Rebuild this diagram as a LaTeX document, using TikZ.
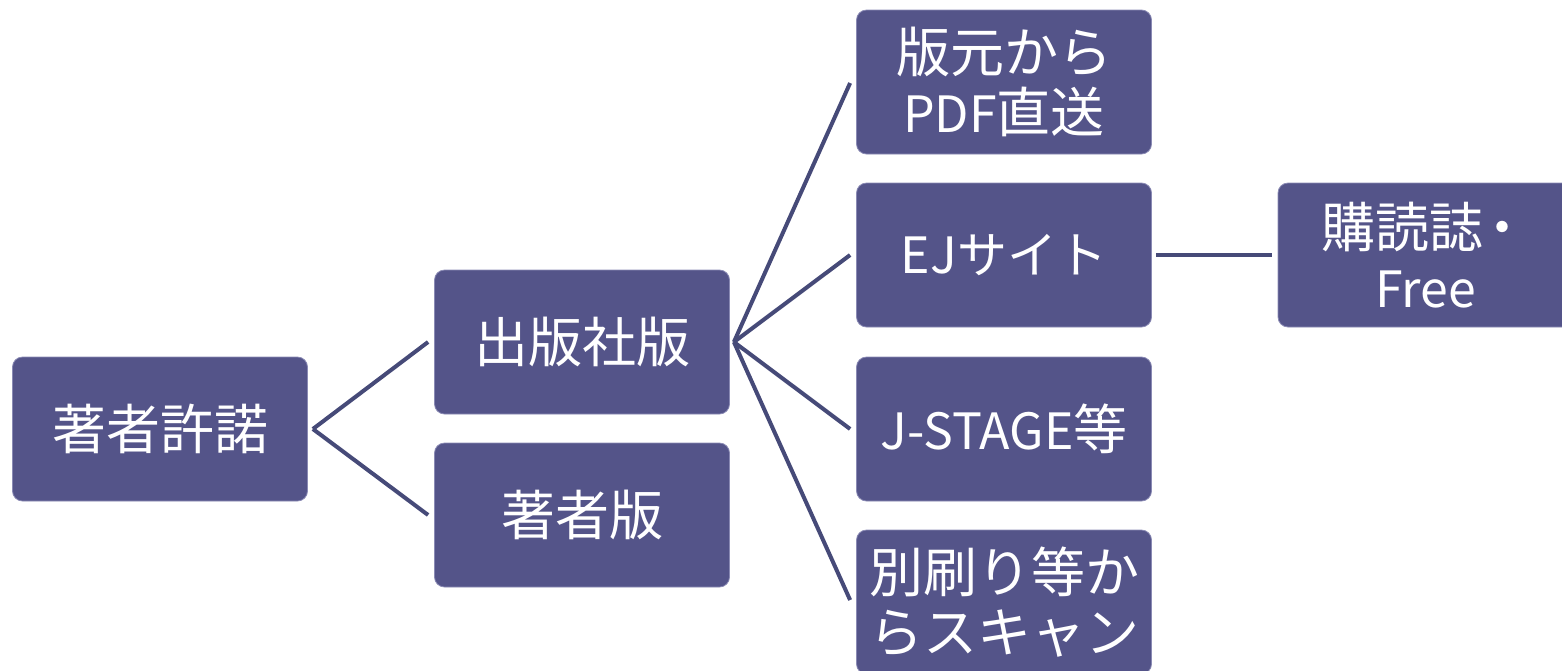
\documentclass[tikz,border=0pt]{standalone}
\usepackage{fontspec}
\setmainfont{Noto Sans CJK JP}
\definecolor{boxfill}{HTML}{545489}
\definecolor{boxedge}{HTML}{8A8AB4}
\definecolor{linkcol}{HTML}{464A78}
\newcommand{\lat}[1]{{\fontsize{25}{30}\selectfont #1}}
\begin{document}
\begin{tikzpicture}[x=0.5pt,y=-0.5pt,
  box/.style={rectangle, rounded corners=5pt, fill=boxfill, draw=boxedge, line width=0.4pt,
    minimum width=147.5pt, minimum height=72pt, text=white, align=center,
    font=\fontsize{27}{30}\selectfont, inner sep=0pt},
  link/.style={draw=linkcol, line width=2pt}]
\useasboundingbox (0,0) rectangle (1562,670);
\clip (0,0) rectangle (1562,670);
\node[box] (auth) at (160,429) {著者許諾};
\node[box] (pub) at (582,342) {出版社版};
\node[box] (aver) at (582,515) {著者版};
\node[box] (pdf) at (1004,82) {版元から\\\lat{PDF}直送};
\node[box] (ej) at (1004,255) {\lat{EJ}{\fontsize{25}{30}\selectfont サイト}};
\node[box] (jst) at (1004,429) {\lat{J-STAGE}等};
\node[box] (scan) at (1004,602) {別刷り等か\\らスキャン};
\node[box] (sub) at (1425.5,255) {購読誌\hspace{-4pt}・\\\lat{Free}};
\draw[link] ([xshift=2.5pt]auth.east) -- ([xshift=-3pt]pub.west);
\draw[link] ([xshift=2.5pt]auth.east) -- ([xshift=-3pt]aver.west);
\draw[link] ([xshift=2pt]pub.east) -- ([xshift=-3pt,yshift=-0.5pt]pdf.west);
\draw[link] ([xshift=2pt]pub.east) -- ([xshift=-3pt]ej.west);
\draw[link] ([xshift=2pt]pub.east) -- ([xshift=-3pt]jst.west);
\draw[link] ([xshift=2pt]pub.east) -- ([xshift=-3pt,yshift=1pt]scan.west);
\draw[link] ([xshift=2pt]ej.east) -- ([xshift=-3pt]sub.west);
\end{tikzpicture}
\end{document}
